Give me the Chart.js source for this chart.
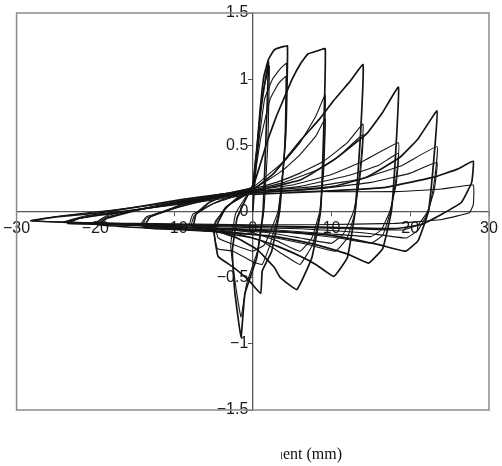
<!DOCTYPE html>
<html>
<head>
<meta charset="utf-8">
<script src="https://cdn.jsdelivr.net/npm/chart.js@4.4.1/dist/chart.umd.min.js"></script>
<style>
  body { margin: 0; background: #fff; }
  #wrap { position: relative; width: 502px; height: 466px; }
  #xtitle {
    position: absolute; left: 281px; top: 445px; width: 61px;
    overflow: hidden; display: flex; justify-content: flex-end;
    white-space: nowrap; font-family: "Liberation Serif", serif; font-size: 16px; color: #111;
  }
</style>
</head>
<body>
<div id="wrap">
  <canvas id="myChart" width="502" height="466"></canvas>
  <div id="xtitle"><span>Displacement (mm)</span></div>
</div>
<script>
// tick labels
const xTicks = [-30, -20, -10, 0, 10, 20, 30];
const yTicks = [-1.5, -1, -0.5, 0, 0.5, 1, 1.5];

// cicli di carico: spostamento (mm) e forza, letti dal grafico
// ampiezza ~2 mm
const disp1 = [0, 0.4, 1.0, 1.6, 2.0, 1.7, 1.3, 0.5, -1.0, -1.5, -2.3, -2.6, -2.0, -1.0, 0];
const load1 = [0, 0.35, 0.75, 1.0, 1.13, 0.6, 0.0, -0.35, -0.62, -0.95, -0.6, -0.3, -0.05, 0.08, 0.2];
const disp2 = [0, 0.6, 1.3, 2.1, 1.9, 1.4, 0.6, -0.8, -1.5, -2.2, -2.8, -2.2, -1.0, 0];
const load2 = [0.2, 0.55, 0.9, 1.1, 0.5, 0.0, -0.3, -0.55, -0.8, -0.55, -0.25, -0.02, 0.1, 0.18];
// ampiezza ~4.4 mm
const disp3 = [0, 0.5, 0.9, 1.4, 2.0, 2.7, 3.5, 4.4, 4.2, 3.4, 2.4, 1.2, 1.0, -0.5, -2.5, -4.4, -4.9, -3.5, -2.0, 0];
const load3 = [0.18, 0.45, 0.75, 1.02, 1.15, 1.22, 1.24, 1.25, 0.6, 0.0, -0.3, -0.45, -0.62, -0.52, -0.42, -0.34, -0.15, 0.02, 0.1, 0.17];
const disp4 = [0, 0.7, 1.5, 2.5, 3.5, 4.3, 4.1, 3.3, 2.2, 1.2, 0.0, -2.5, -4.5, -5.0, -3.5, -1.5, 0];
const load4 = [0.17, 0.5, 0.85, 1.0, 1.08, 1.12, 0.5, 0.0, -0.25, -0.4, -0.38, -0.3, -0.28, -0.12, 0.03, 0.11, 0.16];
const disp5 = [0, 1.0, 2.2, 3.3, 4.2, 4.0, 3.2, 1.5, 0, -2.5, -4.4, -4.8, -3.0, -1.0, 0];
const load5 = [0.16, 0.55, 0.85, 0.97, 1.02, 0.4, 0.0, -0.25, -0.3, -0.25, -0.2, -0.08, 0.05, 0.12, 0.16];
// ampiezza ~9 mm
const disp6 = [0, 0.6, 1.9, 3.0, 4.0, 5.0, 6.1, 7.0, 8.0, 9.2, 9.0, 8.6, 7.5, 5.6, 3.5, 2.7, 0.6, -2.0, -5.0, -7.5, -7.2, -5.5, -2.8, 0];
const load6 = [0.18, 0.29, 0.54, 0.72, 0.86, 1.0, 1.12, 1.19, 1.21, 1.23, 0.6, 0.0, -0.35, -0.59, -0.5, -0.42, -0.29, -0.2, -0.14, -0.12, -0.02, 0.07, 0.14, 0.18];
const disp7 = [0, 2, 4, 6, 8, 9.2, 9.0, 8.6, 7.6, 6.0, 4.0, 1.0, -3.0, -7.8, -7.4, -5.0, -2.5, 0];
const load7 = [0.18, 0.28, 0.38, 0.52, 0.72, 0.88, 0.4, 0.0, -0.25, -0.4, -0.33, -0.22, -0.15, -0.11, -0.03, 0.06, 0.12, 0.17];
const disp8 = [0, 2, 4, 6, 8, 9.2, 9.0, 8.5, 7.5, 6.0, 3.0, 0, -4, -8, -7.6, -5, -2.5, 0];
const load8 = [0.17, 0.24, 0.32, 0.43, 0.57, 0.70, 0.3, 0.0, -0.2, -0.3, -0.22, -0.16, -0.13, -0.1, -0.02, 0.06, 0.11, 0.16];
// ampiezza ~14 mm
const disp9 = [0, 2.7, 6.1, 8.5, 10.3, 12.3, 14.0, 13.7, 13.0, 12.0, 10.3, 8.0, 6.1, 3.0, 0, -5, -10, -13.8, -13.0, -9.0, -4.9, -2.0, 0];
const load9 = [0.16, 0.29, 0.54, 0.70, 0.84, 0.98, 1.11, 0.6, 0.0, -0.35, -0.49, -0.4, -0.34, -0.26, -0.2, -0.15, -0.13, -0.12, -0.04, 0.05, 0.12, 0.15, 0.17];
const disp10 = [0, 3, 6, 9, 12, 14, 13.6, 13.0, 12.0, 10.5, 7, 3, 0, -6, -14, -13.5, -9, -4.5, 0];
const load10 = [0.17, 0.22, 0.29, 0.38, 0.52, 0.66, 0.3, 0.0, -0.2, -0.3, -0.25, -0.2, -0.17, -0.14, -0.11, -0.05, 0.04, 0.11, 0.16];
const disp11 = [0, 4, 8, 11, 14, 13.6, 12.8, 11.5, 10, 6, 2, -6, -14.2, -13.5, -9, -4, 0];
const load11 = [0.16, 0.22, 0.31, 0.42, 0.58, 0.25, 0.0, -0.17, -0.24, -0.2, -0.16, -0.13, -0.1, -0.04, 0.04, 0.11, 0.15];
// ampiezza ~18.5 mm
const disp12 = [0, 6.1, 10.3, 14.5, 16.5, 18.5, 18.2, 17.6, 16.5, 14.7, 12, 8, 3, -5, -12, -19.6, -18.5, -14, -9, -4, 0];
const load12 = [0.15, 0.24, 0.39, 0.59, 0.75, 0.94, 0.5, 0.0, -0.28, -0.39, -0.32, -0.25, -0.19, -0.15, -0.13, -0.1, -0.05, 0.02, 0.08, 0.13, 0.16];
const disp13 = [0, 5, 10, 14, 18.5, 18.2, 17.5, 16.5, 15, 11, 5, -5, -19.8, -18.5, -13, -7, -2, 0];
const load13 = [0.16, 0.2, 0.28, 0.38, 0.52, 0.25, 0.0, -0.18, -0.24, -0.2, -0.16, -0.13, -0.09, -0.04, 0.03, 0.09, 0.13, 0.15];
const disp14 = [0, 6, 12, 16, 18.5, 18.2, 17.4, 16.3, 15, 10, 3, -8, -20, -18.5, -12, -6, 0];
const load14 = [0.15, 0.19, 0.27, 0.35, 0.44, 0.2, 0.0, -0.14, -0.19, -0.17, -0.14, -0.12, -0.09, -0.03, 0.04, 0.09, 0.14];
// ampiezza ~23.4 mm
const disp15 = [0, 5, 10.3, 14.5, 18.7, 21, 23.4, 23.0, 22.3, 21.0, 19.4, 16, 10, 3, -8, -16, -23.5, -22, -16, -10, -4, 0];
const load15 = [0.14, 0.16, 0.19, 0.26, 0.41, 0.55, 0.76, 0.4, 0.0, -0.22, -0.3, -0.25, -0.18, -0.15, -0.12, -0.1, -0.09, -0.05, 0.0, 0.06, 0.12, 0.15];
const disp16 = [0, 8, 14, 19, 23.4, 23.0, 22.3, 21.0, 19.5, 14, 6, -8, -23.8, -21, -14, -7, 0];
const load16 = [0.15, 0.19, 0.25, 0.35, 0.49, 0.2, 0.0, -0.14, -0.2, -0.16, -0.13, -0.11, -0.08, -0.04, 0.02, 0.08, 0.14];
const disp17 = [0, 8, 15, 20, 23.4, 23.0, 22.2, 21.0, 19.0, 12, 0, -12, -24, -21, -14, -7, 0];
const load17 = [0.14, 0.17, 0.22, 0.29, 0.37, 0.15, 0.0, -0.1, -0.14, -0.13, -0.11, -0.1, -0.08, -0.03, 0.02, 0.07, 0.13];
// ampiezza ~28 mm
const disp18 = [0, 8, 16.6, 23, 26, 28, 27.8, 26.5, 24, 21.3, 18, 10, 0, -10, -20, -28.2, -25, -19.6, -14, -9.1, -4, 0];
const load18 = [0.13, 0.15, 0.18, 0.26, 0.32, 0.38, 0.22, 0.07, -0.02, -0.1, -0.13, -0.12, -0.11, -0.1, -0.09, -0.07, -0.04, -0.01, 0.04, 0.09, 0.13, 0.16];
const disp19 = [0, 10, 18, 24, 28, 28, 27.5, 24, 18, 8, 0, -15, -28, -24, -18, -10, 0];
const load19 = [0.16, 0.15, 0.15, 0.17, 0.2, 0.05, -0.01, -0.06, -0.09, -0.1, -0.1, -0.09, -0.07, -0.03, 0.01, 0.07, 0.14];

const dispLoops = [disp1, disp2, disp3, disp4, disp5, disp6, disp7, disp8, disp9, disp10,
  disp11, disp12, disp13, disp14, disp15, disp16, disp17, disp18, disp19];
const loadLoops = [load1, load2, load3, load4, load5, load6, load7, load8, load9, load10,
  load11, load12, load13, load14, load15, load16, load17, load18, load19];
// primo ciclo di ogni ampiezza (tratto piu' marcato)
const firstCycles = [0, 2, 5, 8, 11, 14, 17];

const datasets = dispLoops.map((d, i) => ({
  data: d.map((x, j) => ({ x: x, y: loadLoops[i][j] })),
  borderColor: '#141414',
  borderWidth: firstCycles.includes(i) ? 1.7 : 1.1,
  pointRadius: 0,
  tension: 0.1,
  fill: false
}));

// cornice grigia attorno all'area del grafico
const frame = {
  id: 'frame',
  afterDraw(chart) {
    const a = chart.chartArea;
    const c = chart.ctx;
    c.save();
    c.strokeStyle = '#8a8a8a';
    c.lineWidth = 1.5;
    c.strokeRect(a.left, a.top, a.right - a.left, a.bottom - a.top);
    c.restore();
  }
};

const fmt = v => String(v).replace('-', '\u2212');
const tickFont = { family: 'Liberation Sans, Arial, sans-serif', size: 16 };

const ctx = document.getElementById('myChart').getContext('2d');
const myChart = new Chart(ctx, {
  type: 'line',
  data: { datasets: datasets },
  plugins: [frame],
  options: {
    responsive: false,
    animation: false,
    layout: { padding: { left: 15, right: 13, top: 13, bottom: 56 } },
    plugins: { legend: { display: false }, tooltip: { enabled: false } },
    scales: {
      x: {
        type: 'linear', min: -30, max: 30,
        position: { y: 0 },
        afterBuildTicks: s => { s.ticks = xTicks.map(v => ({ value: v })); },
        border: { color: '#555', width: 1.3 },
        grid: { drawOnChartArea: false, tickLength: 4, color: '#555' },
        ticks: { font: tickFont, color: '#1a1a1a', padding: 3, maxRotation: 0, callback: fmt }
      },
      y: {
        type: 'linear', min: -1.5, max: 1.5,
        position: { x: 0 },
        afterBuildTicks: s => { s.ticks = yTicks.map(v => ({ value: v })); },
        border: { color: '#555', width: 1.3 },
        grid: { drawOnChartArea: false, tickLength: 4, color: '#555' },
        ticks: { font: tickFont, color: '#1a1a1a', padding: 2, callback: v => fmt(v) + ' ' }
      }
    }
  }
});
</script>
</body>
</html>
